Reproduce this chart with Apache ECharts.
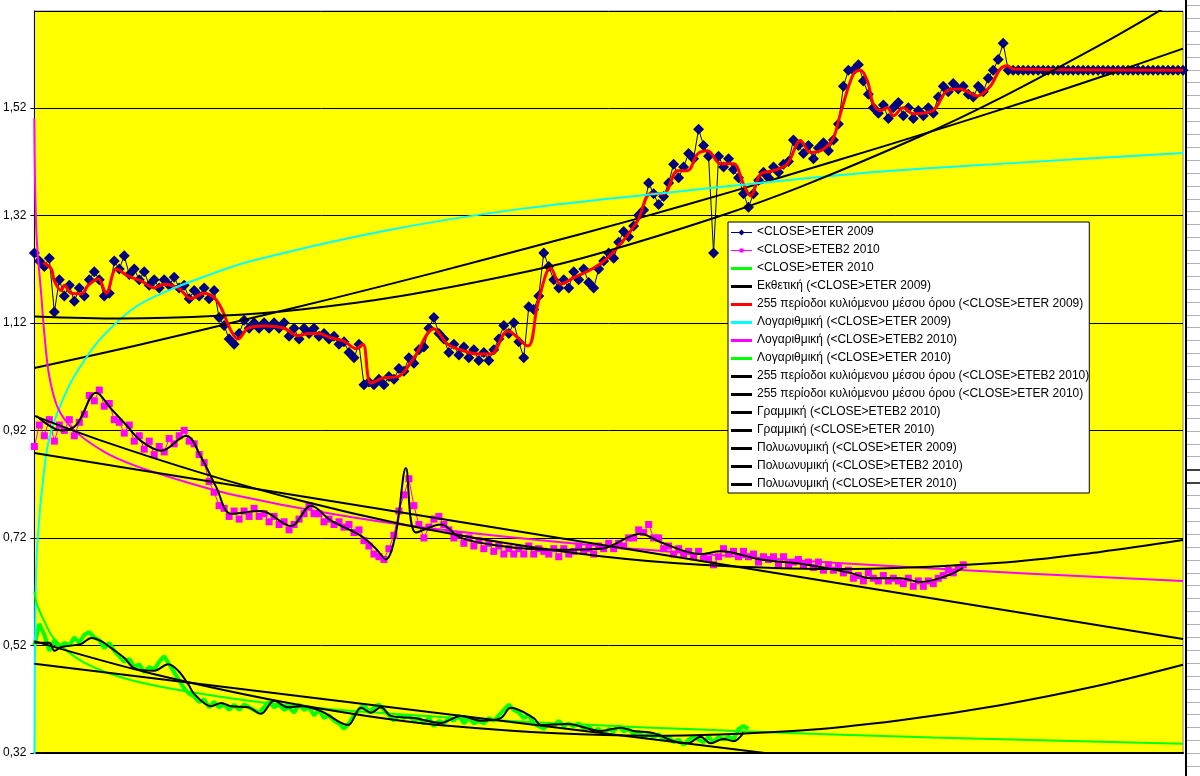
<!DOCTYPE html>
<html><head><meta charset="utf-8">
<script src="https://cdn.jsdelivr.net/npm/echarts@6/dist/echarts.min.js"></script>
<style>html,body{margin:0;padding:0;background:#fff}#c{width:1200px;height:776px}</style>
</head><body><div id="c"></div>
<script>
// ---- data (x = trading-day slot index, 0..230) ----
const yTicks = [0.32, 0.52, 0.72, 0.92, 1.12, 1.32, 1.52];

const eter2009 = [1.25,1.235,1.225,1.24,1.14,1.20,1.17,1.19,1.16,1.185,
1.17,1.20,1.215,1.20,1.17,1.175,1.235,1.22,1.245,1.21,
1.22,1.20,1.215,1.19,1.20,1.185,1.20,1.19,1.205,1.185,
1.19,1.165,1.18,1.17,1.185,1.165,1.18,1.13,1.115,1.09,
1.08,1.10,1.125,1.11,1.12,1.11,1.12,1.11,1.12,1.11,
1.12,1.095,1.11,1.09,1.11,1.10,1.11,1.095,1.10,1.09,
1.095,1.08,1.085,1.065,1.055,1.08,1.005,1.01,1.005,1.015,
1.005,1.02,1.015,1.035,1.03,1.055,1.045,1.07,1.075,1.11,
1.13,1.10,1.09,1.065,1.08,1.06,1.075,1.055,1.07,1.05,
1.065,1.05,1.07,1.09,1.115,1.10,1.12,1.085,1.055,1.15,
1.145,1.17,1.25,1.225,1.20,1.185,1.20,1.185,1.215,1.20,
1.22,1.195,1.185,1.22,1.235,1.25,1.24,1.27,1.29,1.28,
1.30,1.32,1.33,1.38,1.36,1.34,1.355,1.38,1.415,1.39,
1.41,1.435,1.425,1.48,1.45,1.43,1.25,1.43,1.41,1.425,
1.405,1.39,1.36,1.335,1.36,1.385,1.40,1.39,1.41,1.40,
1.415,1.42,1.46,1.45,1.435,1.45,1.425,1.445,1.455,1.44,
1.46,1.49,1.56,1.59,1.59,1.60,1.57,1.545,1.52,1.51,
1.525,1.50,1.52,1.53,1.505,1.52,1.50,1.515,1.505,1.52,
1.51,1.54,1.56,1.55,1.565,1.555,1.56,1.545,1.54,1.56,
1.55,1.575,1.59,1.61,1.64,
1.59,1.59,1.59,1.59,1.59,1.59,1.59,1.59,1.59,1.59,
1.59,1.59,1.59,1.59,1.59,1.59,1.59,1.59,1.59,1.59,
1.59,1.59,1.59,1.59,1.59,1.59,1.59,1.59,1.59,1.59,
1.59,1.59,1.59,1.59,1.59,1.59];

const eteb2010 = [0.89,0.93,0.91,0.94,0.90,0.93,0.92,0.94,0.91,0.935,
0.95,0.985,0.975,0.995,0.965,0.97,0.94,0.935,0.915,0.93,
0.90,0.91,0.885,0.90,0.875,0.89,0.88,0.905,0.895,0.91,
0.92,0.90,0.895,0.875,0.86,0.825,0.805,0.78,0.775,0.76,
0.77,0.755,0.77,0.76,0.775,0.76,0.765,0.75,0.76,0.745,
0.75,0.735,0.745,0.755,0.765,0.78,0.765,0.765,0.75,0.755,
0.745,0.75,0.74,0.745,0.73,0.735,0.715,0.705,0.69,0.685,
0.68,0.70,0.725,0.77,0.80,0.83,0.78,0.745,0.72,0.74,
0.755,0.76,0.745,0.735,0.72,0.725,0.71,0.72,0.705,0.715,
0.70,0.71,0.695,0.705,0.69,0.70,0.69,0.70,0.69,0.705,
0.69,0.70,0.695,0.69,0.70,0.685,0.70,0.69,0.695,0.705,
0.695,0.70,0.69,0.705,0.70,0.71,0.70,0.71,0.705,0.72,
0.72,0.735,0.73,0.745,0.72,0.72,0.70,0.705,0.69,0.70,
0.69,0.695,0.685,0.695,0.685,0.68,0.67,0.685,0.70,0.69,
0.695,0.685,0.695,0.685,0.69,0.675,0.685,0.68,0.685,0.67,
0.685,0.67,0.675,0.68,0.67,0.675,0.665,0.675,0.66,0.67,
0.66,0.665,0.655,0.66,0.645,0.65,0.64,0.655,0.645,0.64,
0.65,0.64,0.645,0.64,0.635,0.645,0.63,0.64,0.63,0.64,
0.635,0.645,0.65,0.66,0.655,0.665,0.67];

const eter2010 = [0.52,0.56,0.54,0.51,0.53,0.515,0.525,0.52,0.535,0.525,
0.54,0.545,0.535,0.53,0.515,0.525,0.51,0.50,0.49,0.495,
0.48,0.485,0.47,0.48,0.475,0.49,0.50,0.485,0.47,0.455,
0.44,0.43,0.425,0.415,0.42,0.405,0.415,0.405,0.41,0.40,
0.41,0.40,0.41,0.405,0.40,0.395,0.405,0.415,0.405,0.41,
0.40,0.405,0.395,0.41,0.40,0.405,0.39,0.40,0.385,0.39,
0.38,0.375,0.365,0.375,0.39,0.40,0.41,0.395,0.405,0.41,
0.40,0.39,0.38,0.39,0.385,0.39,0.38,0.385,0.375,0.385,
0.37,0.38,0.375,0.385,0.38,0.39,0.375,0.385,0.375,0.38,
0.375,0.385,0.38,0.39,0.40,0.41,0.40,0.395,0.385,0.39,
0.375,0.37,0.365,0.375,0.37,0.38,0.37,0.375,0.37,0.375,
0.365,0.37,0.36,0.365,0.355,0.365,0.36,0.37,0.36,0.365,
0.355,0.36,0.35,0.355,0.35,0.355,0.345,0.35,0.34,0.345,
0.335,0.345,0.35,0.345,0.34,0.35,0.34,0.35,0.345,0.35,
0.345,0.365,0.37,0.365];

// trend / moving-average lines: [slot, value]
const ma2009 = [[1.8,1.232],[3.4,1.22],[4,1.198],[5.4,1.18],[6,1.19],[7.4,1.175],[9.4,1.174],[10.8,1.19],[12.8,1.202],[14.4,1.175],[16.4,1.22],[18.8,1.207],[21.4,1.198],[24,1.185],[26,1.192],[28.8,1.185],[31.4,1.165],[34,1.175],[36,1.167],[37.4,1.148],[39.4,1.105],[40.8,1.09],[42.8,1.11],[46,1.114],[50,1.11],[52.8,1.096],[54.8,1.10],[56.8,1.10],[59.4,1.092],[62,1.086],[64.4,1.072],[65.8,1.08],[67.4,1.008],[70,1.018],[72.8,1.02],[76,1.055],[80,1.109],[82.8,1.08],[86,1.068],[88.8,1.062],[91.4,1.062],[94.8,1.105],[98.8,1.077],[100.8,1.155],[103.4,1.222],[105.4,1.192],[108,1.204],[112,1.222],[114.8,1.241],[117.4,1.267],[120.8,1.31],[123.4,1.36],[126,1.36],[128.8,1.403],[130.8,1.403],[132.8,1.434],[134.8,1.44],[137.4,1.416],[140,1.416],[142,1.378],[143.4,1.356],[145.4,1.397],[148,1.403],[150.8,1.416],[153.4,1.459],[155.4,1.437],[158,1.443],[160,1.464],[161.4,1.509],[164,1.583],[165.4,1.59],[166.8,1.57],[168,1.527],[169.4,1.515],[170.8,1.52],[172,1.505],[174,1.52],[176,1.509],[180,1.515],[182.8,1.552],[185.4,1.555],[188.8,1.542],[191.4,1.56],[193.4,1.592],[194.8,1.598],[196,1.592],[230,1.59]];
const ma2010b = [[0.4,0.947],[5.4,0.92],[8.4,0.93],[12.4,0.99],[15.4,0.96],[18.4,0.93],[21.4,0.90],[25.4,0.882],[30.4,0.91],[33.4,0.87],[36.4,0.815],[39.4,0.765],[45.4,0.77],[51.4,0.742],[55.4,0.78],[59.4,0.752],[65.4,0.724],[68.4,0.70],[70.4,0.68],[72.4,0.73],[74.4,0.85],[76.4,0.73],[81.4,0.745],[85.4,0.72],[93.4,0.705],[103.4,0.698],[113.4,0.70],[121.4,0.728],[125.4,0.712],[133.4,0.69],[137.4,0.695],[145.4,0.68],[153.4,0.672],[163.4,0.655],[167.4,0.645],[173.4,0.645],[177.4,0.638],[183.4,0.652],[186,0.665]];
const ma2010 = [[0,0.525],[3,0.525],[4,0.51],[5.4,0.517],[9.4,0.523],[11.4,0.534],[13.4,0.528],[15.4,0.515],[18,0.497],[20,0.478],[24,0.473],[26.8,0.485],[28.8,0.473],[30.8,0.448],[32,0.43],[35.4,0.407],[37.4,0.413],[39.4,0.407],[42.8,0.405],[45.4,0.393],[48,0.417],[50.8,0.405],[53.4,0.407],[57.4,0.398],[62.8,0.372],[65.4,0.404],[67.4,0.395],[69.4,0.405],[71.4,0.389],[76,0.385],[81.4,0.376],[85.4,0.389],[89.4,0.38],[93.4,0.385],[95.4,0.404],[100,0.385],[101.4,0.372],[106.8,0.374],[113.4,0.361],[117.4,0.367],[120,0.361],[124,0.357],[128,0.342],[130.8,0.338],[133.4,0.35],[135.4,0.338],[138,0.346],[140,0.342],[142,0.358]];
const exp2009 = [[0,1.036],[20,1.077],[40,1.121],[60,1.166],[80,1.213],[100,1.262],[120,1.312],[140,1.365],[160,1.42],[180,1.477],[200,1.536],[215,1.582],[230,1.63]];
const log2009 = [[0,0.20],[0.2,0.58],[0.6,0.71],[2,0.85],[3.4,0.92],[6.8,1.0],[10,1.05],[13.4,1.092],[20,1.148],[26.8,1.18],[33.4,1.204],[43.4,1.235],[70,1.291],[97.4,1.332],[130.8,1.366],[164,1.397],[197.4,1.418],[230,1.436]];
const log2010b = [[0,1.50],[0.4,1.29],[1.4,1.17],[2,1.10],[3,1.02],[4.8,0.96],[8,0.92],[14,0.88],[20,0.855],[30,0.825],[40,0.80],[60,0.764],[80,0.737],[113.4,0.705],[140,0.686],[180,0.663],[230,0.64]];
const log2010 = [[0,0.62],[0.4,0.60],[1,0.585],[2,0.565],[4,0.532],[10,0.488],[20,0.454],[40,0.421],[60,0.401],[100,0.377],[140,0.361],[180,0.349],[230,0.337]];
const lin2010b = [[0,0.878],[230,0.532]];
const lin2010 = [[0,0.486],[230,0.225]];
const poly2009 = [[0,1.132],[17.4,1.128],[36.8,1.133],[53.4,1.145],[73.4,1.17],[99.4,1.217],[113.4,1.25],[136.4,1.316],[153.4,1.373],[177.4,1.467],[193.4,1.538],[213.4,1.637],[223.4,1.69],[230,1.727]];
const poly2010b = [[0,0.947],[13.4,0.901],[33.4,0.841],[53.4,0.789],[73.4,0.746],[93.4,0.712],[113.4,0.686],[133.4,0.67],[160.2,0.662],[193.4,0.674],[213.4,0.694],[230,0.716]];
const poly2010 = [[0,0.528],[23.4,0.468],[53.4,0.409],[83.4,0.37],[123.4,0.352],[153.4,0.362],[173.4,0.381],[193.4,0.409],[213.4,0.446],[230,0.484]];

const names = ['<CLOSE>ETER 2009','<CLOSE>ETEB2 2010','<CLOSE>ETER 2010',
'Εκθετική (<CLOSE>ETER 2009)','255 περίοδοι κυλιόμενου μέσου όρου (<CLOSE>ETER 2009)',
'Λογαριθμική (<CLOSE>ETER 2009)','Λογαριθμική (<CLOSE>ETEB2 2010)','Λογαριθμική (<CLOSE>ETER 2010)',
'255 περίοδοι κυλιόμενου μέσου όρου (<CLOSE>ETEB2 2010)','255 περίοδοι κυλιόμενου μέσου όρου (<CLOSE>ETER 2010)',
'Γραμμική (<CLOSE>ETEB2 2010)','Γραμμική (<CLOSE>ETER 2010)',
'Πολυωνυμική (<CLOSE>ETER 2009)','Πολυωνυμική (<CLOSE>ETEB2 2010)','Πολυωνυμική (<CLOSE>ETER 2010)'];

// ---- chart ----
const FONT = 'Liberation Sans, Arial, sans-serif';
const idx = arr => arr.map((v, i) => [i, v]);
function trend(name, data, color, width, smooth) {
  return {name, type:'line', data, showSymbol:false, symbol:'none', smooth: smooth ? 0.35 : false,
    lineStyle:{color, width}, itemStyle:{color}, emphasis:{disabled:true}, z:3};
}
const series = [
  {name:names[0], type:'line', data: idx(eter2009), symbol:'diamond', symbolSize:11,
   lineStyle:{color:'#000080', width:1}, itemStyle:{color:'#000080'}, emphasis:{disabled:true}, z:2},
  {name:names[1], type:'line', data: idx(eteb2010), symbol:'rect', symbolSize:7,
   lineStyle:{color:'#FF00FF', width:1}, itemStyle:{color:'#FF00FF'}, emphasis:{disabled:true}, z:2},
  {name:names[2], type:'line', data: idx(eter2010), symbol:'none', showSymbol:false,
   lineStyle:{color:'#00FF00', width:4}, itemStyle:{color:'#00FF00'}, emphasis:{disabled:true}, z:2},
  trend(names[3], exp2009, '#000000', 2, true),
  trend(names[4], ma2009, '#FF0000', 3, true),
  trend(names[5], log2009, '#00FFFF', 2, true),
  trend(names[6], log2010b, '#FF00FF', 2, true),
  trend(names[7], log2010, '#00FF00', 2, true),
  trend(names[8], ma2010b, '#000000', 2, true),
  trend(names[9], ma2010, '#000000', 2, true),
  trend(names[10], lin2010b, '#000000', 2, false),
  trend(names[11], lin2010, '#000000', 2, false),
  trend(names[12], poly2009, '#000000', 2, true),
  trend(names[13], poly2010b, '#000000', 2, true),
  trend(names[14], poly2010, '#000000', 2, true)
];

// legend icons: a bar (plus a small marker for the two price series)
const ICON_LINE = 'path://M0,0 M21,14 M0,6 L21,6 L21,9 L0,9 Z';
const ICON_DIAMOND = 'path://M0,0 M21,14 M0,7 L21,7 L21,8 L0,8 Z M10.5,4.5 L13.5,7.5 L10.5,10.5 L7.5,7.5 Z';
const ICON_SQUARE = 'path://M0,0 M21,14 M0,7 L21,7 L21,8 L0,8 Z M8.5,5.5 L12.5,5.5 L12.5,9.5 L8.5,9.5 Z';
const legendData = names.map((n, i) => ({name:n, icon: i === 0 ? ICON_DIAMOND : (i === 1 ? ICON_SQUARE : ICON_LINE)}));

// decoration at the right edge (part of the neighbouring sheet area)
const deco = [{type:'rect', shape:{x:1185, y:0, width:2, height:776}, style:{fill:'#000'}}];
for (let y = 5; y < 776; y += 12.9) {
  const dark = Math.abs(y - 472) < 3 || Math.abs(y - 485) < 3;
  deco.push({type:'rect', shape:{x:1187, y:Math.round(y), width:13, height: dark ? 2 : 1},
    style:{fill: dark ? '#404040' : '#b0b0b0'}});
}

const chart = echarts.init(document.getElementById('c'), null, {renderer:'canvas'});
chart.setOption({
  animation:false,
  backgroundColor:'#ffffff',
  textStyle:{fontFamily:FONT},
  grid:{left:33, right:17, top:11, bottom:23, show:true, backgroundColor:'#FFFF00',
        borderColor:'#808080', borderWidth:1},
  xAxis:{type:'value', min:0, max:230, interval:10,
    axisLine:{show:true, onZero:false, lineStyle:{color:'#000', width:2}},
    axisTick:{show:false}, axisLabel:{show:false}, splitLine:{show:false}},
  yAxis:{type:'value', min:yTicks[0], max:1.70, interval:0.2,
    axisLine:{show:true, lineStyle:{color:'#000', width:1}},
    axisTick:{show:true, length:4, lineStyle:{color:'#000'}},
    axisLabel:{color:'#000', fontSize:12, fontFamily:FONT, margin:8, showMaxLabel:false,
      formatter: v => v.toFixed(2).replace('.', ',')},
    splitLine:{show:true, lineStyle:{color:'#000', width:1}}},
  legend:{data:legendData, orient:'vertical', left:728, top:222, padding:[3,0,2,3],
    itemWidth:21, itemHeight:14, itemGap:4, backgroundColor:'#fff', borderColor:'#000', borderWidth:1,
    borderRadius:0,
    textStyle:{fontFamily:FONT, fontSize:12, color:'#000'},
    selectedMode:false},
  series,
  graphic: deco
});
</script></body></html>
